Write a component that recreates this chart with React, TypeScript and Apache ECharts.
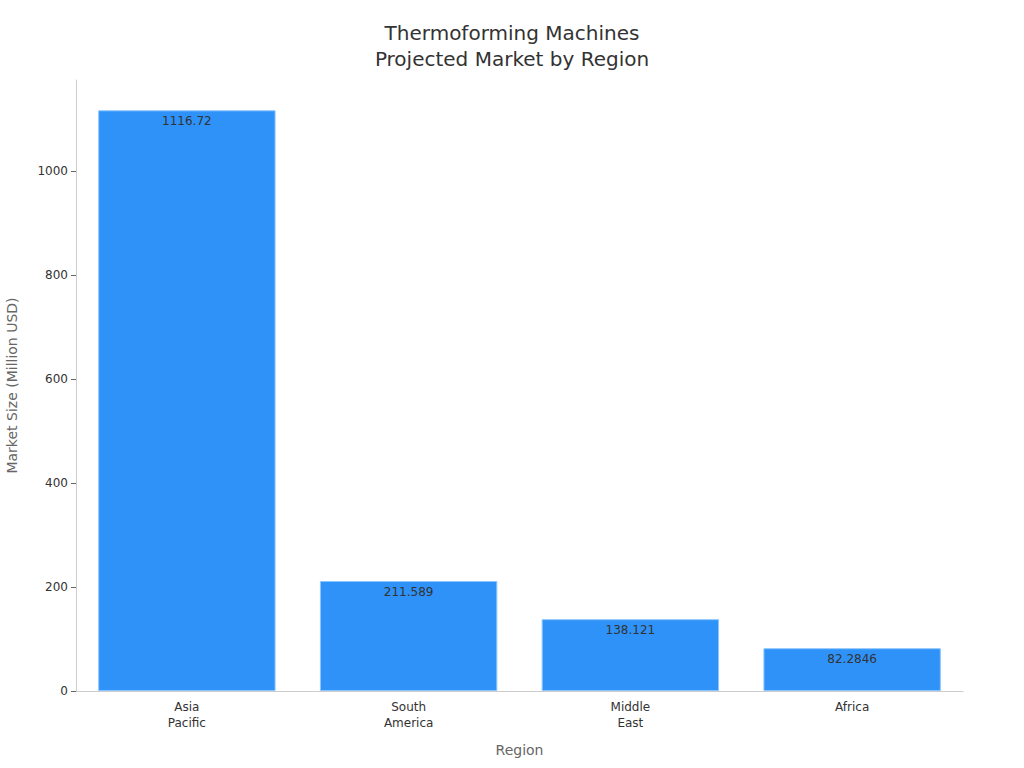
import React, { useEffect, useRef } from "react";
import * as echarts from "echarts";

const categories = ["Asia\nPacific", "South\nAmerica", "Middle\nEast", "Africa"];
const values = [1116.72, 211.589, 138.121, 82.2846];
const yTicks = [0, 200, 400, 600, 800, 1000];

export default function App() {
  const ref = useRef<HTMLDivElement>(null);
  useEffect(() => {
    if (!ref.current) return;
    const chart = echarts.init(ref.current, undefined, { renderer: "svg" });
    const font = "DejaVu Sans";
    chart.setOption({
      animation: false,
      textStyle: { fontFamily: font },
      title: {
        text: "Thermoforming Machines\nProjected Market by Region",
        left: "center",
        top: 15,
        textStyle: { fontFamily: font, fontSize: 20, fontWeight: "normal", color: "#333", lineHeight: 26 },
      },
      grid: { left: 76, right: 61, top: 80, bottom: 77, outerBoundsMode: "none", containLabel: false },
      xAxis: {
        type: "category",
        data: categories,
        name: "Region",
        nameLocation: "middle",
        nameGap: 52,
        nameTextStyle: { fontFamily: font, fontSize: 14, color: "#666" },
        axisLine: { lineStyle: { color: "#ccc" } },
        axisTick: { alignWithLabel: true, length: 5, lineStyle: { color: "#666" } },
        axisLabel: { fontFamily: font, fontSize: 12, color: "#333", lineHeight: 16, margin: 8 },
      },
      yAxis: {
        type: "value",
        min: 0,
        max: 1175,
        interval: 200,
        name: "Market Size (Million USD)",
        nameLocation: "middle",
        nameGap: 57,
        nameTextStyle: { fontFamily: font, fontSize: 14, color: "#666" },
        axisLine: { show: true, lineStyle: { color: "#ccc" } },
        axisTick: { show: true, length: 5, lineStyle: { color: "#666" }, customValues: yTicks },
        axisLabel: {
          fontFamily: font,
          fontSize: 12,
          color: "#333",
          margin: 8,
          customValues: yTicks,
          formatter: (v: number) => String(v),
        },
        splitLine: { show: false },
      },
      series: [
        {
          type: "bar",
          data: values,
          barCategoryGap: "20%",
          itemStyle: { color: "#2e92f8", borderColor: "#8cc6ff", borderWidth: 1 },
          label: {
            show: true,
            position: "insideTop",
            distance: 5,
            fontFamily: font,
            fontSize: 12,
            color: "#333",
          },
        },
      ],
    });
    return () => chart.dispose();
  }, []);
  return <div ref={ref} style={{ width: 1024, height: 768, position: "absolute", left: 0, top: 0 }} />;
}
